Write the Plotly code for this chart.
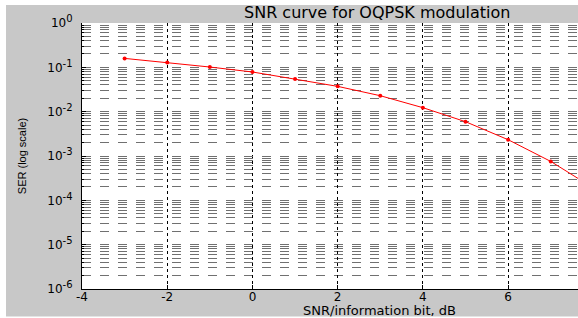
import plotly.graph_objects as go

snr_db = [-3, -2, -1, 0, 1, 2, 3, 4, 5, 6, 7, 8]
ser = [0.159, 0.129, 0.1016, 0.0785, 0.0548, 0.0372, 0.0229, 0.0123,
       0.00594, 0.00233, 0.000755, 0.00019]

y_major = [1e-6, 1e-5, 1e-4, 1e-3, 1e-2, 1e-1, 1e0]
y_exponents = ["-6", "-5", "-4", "-3", "-2", "-1", "0"]
y_minor = [k * 10.0 ** n for n in range(-6, 0) for k in range(2, 10)]
x_ticks = [-4, -2, 0, 2, 4, 6]

title_text = "SNR curve for OQPSK modulation"
x_title = "SNR/information bit, dB"
y_title = "SER (log scale)"

FONT = "Liberation Sans, Arial, sans-serif"
WIDE = "DejaVu Sans, sans-serif"
W, H = 578, 318
ML, MR, MT, MB = 82, 0, 23, 29
pw = W - ML - MR
ph = H - MT - MB

def px_x(p):
    return (p - ML) / pw

def px_y(p):
    return (H - MB - p) / ph

y_major_text = ["10<sup><span style='font-size:10px'>%s</span></sup>" % e
                for e in y_exponents]

fig = go.Figure()
fig.add_trace(go.Scatter(
    x=snr_db, y=ser, mode="lines+markers",
    line=dict(color="#ff0000", width=1),
    marker=dict(color="#ff0000", size=4),
    showlegend=False,
))

fig.update_layout(
    width=W, height=H,
    margin=dict(l=ML, r=MR, t=MT, b=MB),
    paper_bgcolor="#c8c8c8",
    plot_bgcolor="white",
    font=dict(family=FONT, color="black", size=11),
    shapes=[
        dict(type="rect", xref="paper", yref="paper",
             x0=px_x(-5), x1=px_x(6), y0=px_y(330), y1=px_y(-5),
             fillcolor="white", line=dict(width=0), layer="above"),
        dict(type="rect", xref="paper", yref="paper",
             x0=px_x(-5), x1=px_x(590), y0=px_y(5), y1=px_y(-5),
             fillcolor="white", line=dict(width=0), layer="above"),
        dict(type="rect", xref="paper", yref="paper",
             x0=px_x(-5), x1=px_x(590), y0=px_y(330), y1=px_y(316.5),
             fillcolor="white", line=dict(width=0), layer="above"),
    ],
    annotations=[
        dict(text=title_text, xref="paper", yref="paper",
             x=px_x(377), y=px_y(12.5), xanchor="center", yanchor="middle",
             showarrow=False, font=dict(size=16, family=WIDE)),
        dict(text=x_title, xref="paper", yref="paper",
             x=px_x(379), y=px_y(310), xanchor="center", yanchor="middle",
             showarrow=False, font=dict(size=13, family=WIDE)),
    ],
)

fig.update_xaxes(
    range=[-4, 7.64],
    tickmode="array", tickvals=x_ticks,
    ticktext=[str(v) if v >= 0 else "-" + str(-v) for v in x_ticks],
    showline=True, linecolor="black", linewidth=1,
    ticks="inside", ticklen=4, tickcolor="black",
    showgrid=True, gridcolor="black", griddash="dot", gridwidth=1,
    zeroline=False,
    tickfont=dict(size=12, family=WIDE),
    ticklabelstandoff=-3,
)

fig.update_yaxes(
    type="log", range=[-6, 0],
    tickmode="array", tickvals=y_major, ticktext=y_major_text,
    showline=True, linecolor="black", linewidth=1,
    ticks="inside", ticklen=4, tickcolor="black",
    showgrid=True, gridcolor="#707070", griddash="dash", gridwidth=1,
    minor=dict(tickmode="array", tickvals=y_minor, showgrid=True,
               gridcolor="#707070", griddash="dash", gridwidth=1,
               ticks="inside", ticklen=2, tickcolor="black"),
    zeroline=False,
    tickfont=dict(size=12, family=WIDE),
    ticklabelstandoff=6,
    title=dict(text=y_title, font=dict(size=11, family=FONT), standoff=18),
)

fig.write_html("out.html",
               config={"displayModeBar": False},
               post_script="document.body.style.margin='0px';")
